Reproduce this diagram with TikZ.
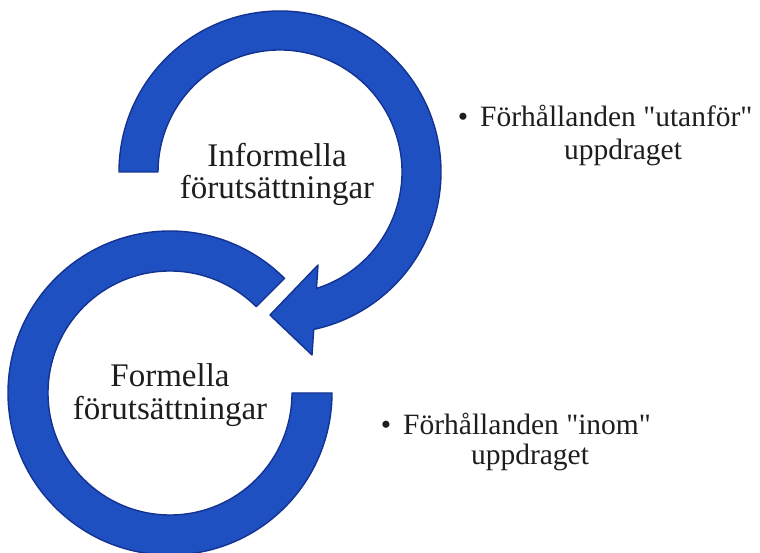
\documentclass[tikz,border=0pt]{standalone}
\usepackage{fontspec}
\setmainfont{Liberation Serif}[Ligatures=TeXOff]
\definecolor{ringblue}{RGB}{30,80,194}
\definecolor{ringedge}{RGB}{20,50,145}
\definecolor{txt}{RGB}{30,30,30}
\tikzset{
  ringshape/.style={fill=ringblue, draw=ringedge, line width=1.4pt, line join=round},
  circtext/.style={anchor=base, inner sep=0pt, text=txt, font=\fontsize{33}{35}\selectfont},
  bultext/.style={anchor=base, inner sep=0pt, text=txt, font=\fontsize{29.5}{32}\selectfont}
}
\begin{document}
\begin{tikzpicture}[x=1pt,y=1pt]
\useasboundingbox (0,0) rectangle (760,553);
% bottom ring (centre 170,160)
\coordinate (cb) at (170,160);
\fill[ringshape] ([shift={(45:162)}]cb) arc[start angle=45, end angle=360, radius=162]
  -- ([shift={(0:122)}]cb) arc[start angle=360, end angle=45, radius=122] -- cycle;
% top arc with arrowhead (centre 280,381)
\coordinate (ct) at (280,381);
\coordinate (headL) at (312,198);
\coordinate (headT) at (270,238);
\coordinate (headU) at (318,288);
\fill[ringshape] ([shift={(180:161)}]ct) arc[start angle=180, end angle=-77.9, radius=161]
  -- (headL) -- (headT) -- (headU)
  -- ([shift={(-72.6:122)}]ct) arc[start angle=-72.6, end angle=180, radius=122] -- cycle;
% circle texts
\node[circtext] (inf1) at (277,386) {Informella};
\node[circtext] (inf2) at (277,354) {förutsättningar};
\node[circtext] (for1) at (170,166) {Formella};
\node[circtext] (for2) at (170,133) {förutsättningar};
% bullet texts
\node[bultext] (ub) at (463,426) {•};
\node[bultext, anchor=base west] (u1) at (480,426) {Förhållanden "utanför"};
\node[bultext] (u2) at (623,393) {uppdraget};
\node[bultext] (ib) at (386,118) {•};
\node[bultext, anchor=base west] (i1) at (403,118) {Förhållanden "inom"};
\node[bultext] (i2) at (530,88) {uppdraget};
\end{tikzpicture}
\end{document}
